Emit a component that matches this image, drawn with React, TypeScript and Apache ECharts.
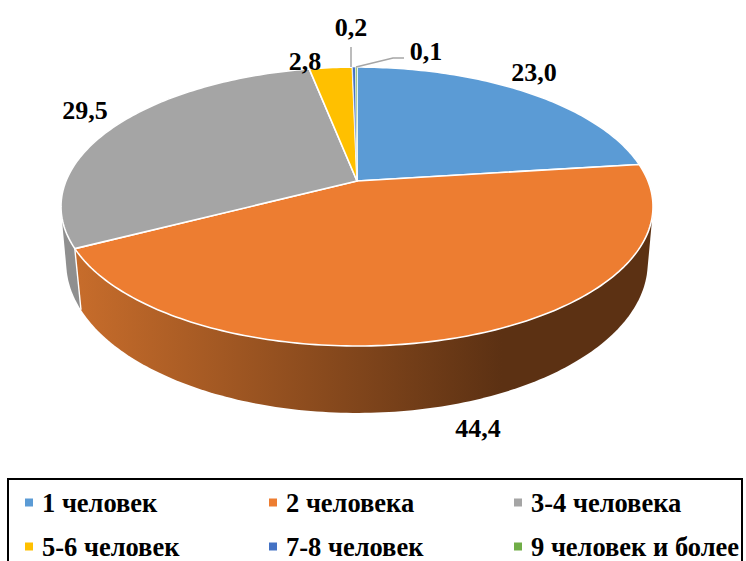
import React, { useEffect, useRef } from "react";
import * as echarts from "echarts";

const categories = ["1 человек", "2 человека", "3-4 человека", "5-6 человек", "7-8 человек", "9 человек и более"];
const values = [23.0, 44.4, 29.5, 2.8, 0.2, 0.1];
const colors = ["#5B9BD5", "#ED7D31", "#A5A5A5", "#FFC000", "#4472C4", "#70AD47"];

// Perspective projection of the pie's top and bottom rims.
const topRim = { cx: 357, ay: 181, s: 291, k: 134.8, p: 0.183 };
const bottomRim = { cx: 357, ay: 237, s: 286.5, k: 146, p: 0.17 };

// Label anchors and leader lines (layout only).
const labelAt = [[534, 72], [478, 428], [85, 110], [305, 61], [351, 27], [426, 51]];
const leaders: (number[][] | null)[] = [null, null, null, null, [[351, 47], [351, 67]], [[356, 67], [393, 58], [404, 58]]];
const legendAt = [[25, 489], [269, 489], [514, 489], [25, 533], [269, 533], [514, 533]];

const total = values.reduce((a, b) => a + b, 0);
const starts = values.map((_, i) => values.slice(0, i).reduce((a, b) => a + b, 0) / total);
const ends = values.map((_, i) => values.slice(0, i + 1).reduce((a, b) => a + b, 0) / total);

function project(r: typeof topRim, t: number) {
  const a = t * Math.PI * 2;
  const den = 1 + r.p * Math.cos(a);
  return [r.cx + (r.s * Math.sin(a)) / den, r.ay - (r.k * Math.cos(a)) / den];
}
function arc(r: typeof topRim, a: number, b: number) {
  const n = Math.max(2, Math.ceil((b - a) * 360));
  const pts: number[][] = [];
  for (let i = 0; i <= n; i++) pts.push(project(r, a + ((b - a) * i) / n));
  return pts;
}
// Silhouette of a wall: the convex hull of its top and bottom rim arcs.
function hull(input: number[][]) {
  const pts = [...input].sort((p, q) => p[0] - q[0] || p[1] - q[1]);
  const cross = (o: number[], a: number[], b: number[]) =>
    (a[0] - o[0]) * (b[1] - o[1]) - (a[1] - o[1]) * (b[0] - o[0]);
  const half = (list: number[][]) => {
    const out: number[][] = [];
    for (const p of list) {
      while (out.length >= 2 && cross(out[out.length - 2], out[out.length - 1], p) <= 0) out.pop();
      out.push(p);
    }
    out.pop();
    return out;
  };
  return [...half(pts), ...half([...pts].reverse())];
}
const wallFill = (i: number) =>
  i === 1
    ? new echarts.graphic.LinearGradient(80, 0, 650, 0, [
        { offset: 0, color: "#C66C2B" },
        { offset: 0.74, color: "#5C3113" },
        { offset: 1, color: "#5C3113" },
      ], true)
    : i === 2
    ? "#8F8F8F"
    : colors[i];

export default function App() {
  const ref = useRef<HTMLDivElement>(null);
  useEffect(() => {
    document.body.style.margin = "0";
    const chart = echarts.init(ref.current!, null, { renderer: "svg" });
    const font = "Liberation Serif";
    const wallSeries = {
      type: "custom",
      name: "walls",
      z: 1,
      coordinateSystem: "none",
      silent: true,
      data: values.map((v, i) => [i, v]),
      renderItem: (params: any) => {
        const i = params.dataIndex;
        const pts = hull([...arc(topRim, starts[i], ends[i]), ...arc(bottomRim, starts[i], ends[i])]);
        const children: any[] = [{
          type: "polygon",
          z2: i === 1 ? 2 : 1,
          shape: { points: pts },
          style: { fill: wallFill(i) },
        }];
        if (i === 1) children.push({
          type: "polyline",
          z2: 3,
          shape: { points: [project(topRim, ends[i]), project(bottomRim, ends[i])] },
          style: { stroke: "#fff", lineWidth: 1.4, fill: "none" },
        });
        return { type: "group", children };
      },
    };
    const sliceSeries = categories.map((name, i) => ({
      type: "custom",
      name,
      z: 3,
      coordinateSystem: "none",
      silent: true,
      itemStyle: { color: colors[i] },
      data: [[values[i]]],
      renderItem: () => {
        const children: any[] = [
          {
            type: "polygon",
            shape: { points: [[topRim.cx, topRim.ay], ...arc(topRim, starts[i], ends[i])] },
            style: { fill: colors[i], stroke: "#fff", lineWidth: i >= 4 ? 0.6 : 1.6, lineJoin: "round" },
          },
          {
            type: "text",
            style: {
              text: values[i].toFixed(1).replace(".", ","),
              x: labelAt[i][0],
              y: labelAt[i][1],
              align: "center",
              verticalAlign: "middle",
              fill: "#000",
              font: `bold 26px "${font}"`,
            },
          },
        ];
        const l = leaders[i];
        if (l) children.push({
          type: "polyline",
          shape: { points: l },
          style: { stroke: "#A6A6A6", lineWidth: 1.5, fill: "none" },
        });
        return { type: "group", children };
      },
    }));
    chart.setOption({
      animation: false,
      backgroundColor: "#fff",
      graphic: [{
        type: "rect",
        shape: { x: 8, y: 479, width: 734, height: 110 },
        style: { fill: "none", stroke: "#000", lineWidth: 2 },
      }],
      legend: categories.map((name, i) => ({
        data: [name],
        left: legendAt[i][0],
        top: legendAt[i][1],
        icon: "rect",
        itemWidth: 8,
        itemHeight: 8,
        itemGap: 6,
        padding: 0,
        selectedMode: false,
        textStyle: { fontFamily: font, fontWeight: "bold", fontSize: 26.5, color: "#000", padding: [0, 0, 0, 4] },
      })),
      series: [wallSeries, ...sliceSeries],
    });
    return () => chart.dispose();
  }, []);
  return <div ref={ref} style={{ width: 746, height: 561 }} />;
}
